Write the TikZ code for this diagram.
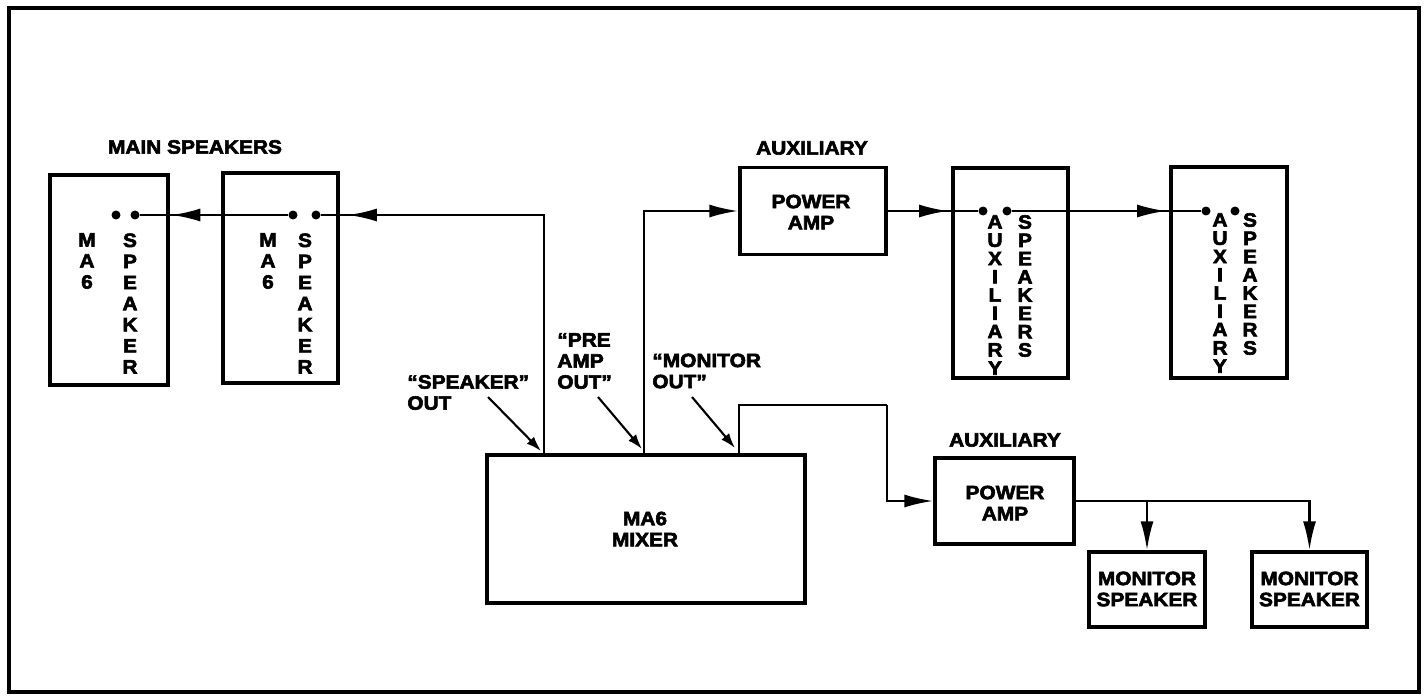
\documentclass[tikz,border=0pt]{standalone}
\usepackage{fontspec}
\setmainfont{Liberation Sans}[FakeStretch=1.08, FakeBold=3]
\usetikzlibrary{arrows.meta,decorations.markings}
\begin{document}
\begin{tikzpicture}[x=0.02cm,y=-0.02cm,
  lbl/.style={font=\fontsize{11}{12}\selectfont\bfseries, inner sep=0pt, align=center},
  lbll/.style={font=\fontsize{11}{12}\selectfont\bfseries, inner sep=0pt, align=left, anchor=west},
  vstack/.style={font=\fontsize{11}{12}\selectfont\bfseries, inner sep=0pt, align=center},
  vstackb/.style={font=\fontsize{11}{10.4}\selectfont\bfseries, inner sep=0pt, align=center},
  box/.style={draw, line width=1.9pt, inner sep=0pt},
  dot/.style={circle, fill, inner sep=0pt, minimum size=0.18cm},
  conn/.style={line width=1.4pt},
  bigtip/.tip={Latex[length=0.58cm,width=0.26cm]},
  smalltip/.tip={Latex[length=0.3cm,width=0.2cm]},
  arrowat/.style={postaction={decorate}, decoration={markings, mark=at position #1 with {\arrow{bigtip}}}},
  lblarrow/.style={line width=1.2pt, -smalltip}
]
\useasboundingbox (0,0) rectangle (1424,696);
\fill[white] (0,0) rectangle (1424,696);
\draw[line width=2.8pt] (9,8) rectangle (1419,692);

% main speakers
\node[lbl] (mainlbl) at (195,147) {MAIN SPEAKERS};
\node[box, minimum width=2.36cm, minimum height=4.2cm] (s1) at (109,280) {};
\node[box, minimum width=2.3cm, minimum height=4.2cm] (s2) at (280.5,278) {};
\node[vstack] (s1t1) at (87,261) {M\\A\\6};
\node[vstack] (s1t2) at (130,303.5) {S\\P\\E\\A\\K\\E\\R};
\node[vstack] (s2t1) at (268,261) {M\\A\\6};
\node[vstack] (s2t2) at (305,303.5) {S\\P\\E\\A\\K\\E\\R};
\node[dot] (s1a) at (116,215) {};
\node[dot] (s1b) at (135,215) {};
\node[dot] (s2a) at (293,215) {};
\node[dot] (s2b) at (316,215) {};

% mixer
\node[box, minimum width=6.36cm, minimum height=2.96cm] (mixer) at (646,529) {};
\node[lbl] (mixlbl) at (645,529) {MA6\\MIXER};
\coordinate (mxA) at (544,455);
\coordinate (mxB) at (644,455);
\coordinate (mxC) at (739,455);

% output labels
\node[lbll] (spklbl) at (407,392.5) {“SPEAKER”\\OUT};
\node[lbll] (prelbl) at (557,361) {“PRE\\AMP\\OUT”};
\node[lbll] (monlbl) at (652,371) {“MONITOR\\OUT”};
\coordinate (lA) at (488,397);
\coordinate (tA) at (541,451);
\coordinate (lB) at (598,397);
\coordinate (tB) at (642,449);
\coordinate (lC) at (692,397);
\coordinate (tC) at (735,448);
\draw[lblarrow] (lA) -- (tA);
\draw[lblarrow] (lB) -- (tB);
\draw[lblarrow] (lC) -- (tC);

% auxiliary power amp 1 and speakers
\node[lbl] (auxlbl1) at (812,148) {AUXILIARY};
\node[box, minimum width=2.92cm, minimum height=1.74cm] (amp1) at (813,211) {};
\node[lbl] (amp1t) at (811,212) {POWER\\AMP};
\node[box, minimum width=2.3cm, minimum height=4.2cm] (a1) at (1010.5,273) {};
\node[box, minimum width=2.32cm, minimum height=4.22cm] (a2) at (1229,272.5) {};
\node[vstackb] (a1t1) at (995,295) {A\\U\\X\\I\\L\\I\\A\\R\\Y};
\node[vstackb] (a1t2) at (1025,286) {S\\P\\E\\A\\K\\E\\R\\S};
\node[vstackb] (a2t1) at (1220,293) {A\\U\\X\\I\\L\\I\\A\\R\\Y};
\node[vstackb] (a2t2) at (1250,284) {S\\P\\E\\A\\K\\E\\R\\S};
\node[dot] (a1a) at (983,211) {};
\node[dot] (a1b) at (1007,211) {};
\node[dot] (a2a) at (1206,211) {};
\node[dot] (a2b) at (1235,211) {};

% auxiliary power amp 2 and monitors
\node[lbl] (auxlbl2) at (1005,440) {AUXILIARY};
\node[box, minimum width=2.78cm, minimum height=1.72cm] (amp2) at (1004.5,501) {};
\node[lbl] (amp2t) at (1005,503) {POWER\\AMP};
\node[box, minimum width=2.32cm, minimum height=1.5cm] (m1) at (1147,589.5) {};
\node[box, minimum width=2.3cm, minimum height=1.5cm] (m2) at (1309.5,589.5) {};
\node[lbl] (m1t) at (1147,589) {MONITOR\\SPEAKER};
\node[lbl] (m2t) at (1309.5,589) {MONITOR\\SPEAKER};
\coordinate (cornerM) at (887,405);

% connectors
\draw[conn, arrowat=-0.54cm] (mxA) |- (s2b);
\draw[conn, arrowat=-0.63cm] (s2a) -- (s1b);
\draw[conn, -bigtip] (mxB) |- (amp1.west);
\draw[conn, arrowat=-0.6cm] (amp1.east |- a1a) -- (a1a);
\draw[conn, arrowat=-0.7cm] (a1b) -- (a2a);
\draw[conn] (mxC) |- (cornerM);
\draw[conn, -bigtip] (cornerM) |- (amp2.west);
\draw[conn, -bigtip] (amp2.east) -| (m2.north);
\draw[conn, -bigtip] (amp2.east -| m1.north) -- (m1.north);
\end{tikzpicture}
\end{document}
